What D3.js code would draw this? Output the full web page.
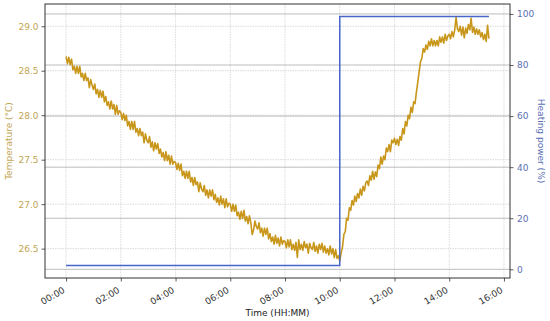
<!DOCTYPE html>
<html><head><meta charset="utf-8">
<script src="https://cdn.jsdelivr.net/npm/d3@7"></script>
<style>
body{margin:0;background:#fff}
svg{display:block}
text{font-family:"DejaVu Sans",sans-serif}
</style>
</head><body>
<svg id="chart" width="550" height="321"></svg>
<script>
// ---- data ----
const tempSampleStepHours = 0.05;
const temperature = [
  // 00:00
  28.66,28.58,28.65,28.57,28.63,28.51,28.55,28.47,28.55,28.47,28.55,28.43,28.47,28.39,28.47,28.39,28.42,28.31,28.40,28.34,
  // 01:00
  28.29,28.35,28.24,28.29,28.20,28.28,28.20,28.27,28.15,28.21,28.11,28.15,28.07,28.16,28.07,28.12,28.01,28.11,28.01,28.05,
  // 02:00
  28.03,27.95,28.02,27.94,28.00,27.88,27.93,27.84,27.93,27.84,27.93,27.81,27.85,27.77,27.85,27.77,27.81,27.69,27.79,27.72,
  // 03:00
  27.69,27.76,27.64,27.70,27.60,27.69,27.62,27.68,27.57,27.62,27.53,27.58,27.49,27.59,27.49,27.55,27.45,27.54,27.45,27.48,
  // 04:00
  27.47,27.39,27.46,27.38,27.45,27.32,27.37,27.29,27.37,27.29,27.37,27.25,27.30,27.21,27.30,27.22,27.25,27.14,27.24,27.17,
  // 05:00
  27.14,27.21,27.10,27.16,27.07,27.16,27.09,27.16,27.05,27.11,27.02,27.07,26.99,27.09,27.00,27.06,26.96,27.06,26.97,27.01,
  // 06:00
  27.00,26.92,27.00,26.92,26.99,26.87,26.91,26.83,26.92,26.84,26.93,26.81,26.86,26.78,26.87,26.79,26.66,26.71,26.81,26.75,
  // 07:00
  26.72,26.79,26.68,26.73,26.64,26.73,26.66,26.73,26.61,26.67,26.58,26.63,26.55,26.65,26.56,26.62,26.53,26.63,26.55,26.59,
  // 08:00
  26.58,26.51,26.60,26.52,26.60,26.49,26.55,26.48,26.57,26.40,26.60,26.49,26.55,26.48,26.58,26.51,26.55,26.45,26.56,26.51,
  // 09:00
  26.49,26.57,26.47,26.53,26.45,26.55,26.49,26.56,26.46,26.53,26.45,26.50,26.43,26.53,26.44,26.50,26.40,26.49,26.39,26.42,
  // 10:00
  26.36,26.45,26.52,26.66,26.69,26.84,26.82,26.96,26.93,27.04,26.99,27.09,27.03,27.12,27.07,27.17,27.10,27.20,27.15,27.24,
  // 11:00
  27.26,27.21,27.32,27.27,27.37,27.28,27.36,27.31,27.44,27.40,27.53,27.45,27.54,27.50,27.63,27.59,27.67,27.59,27.72,27.69,
  // 12:00
  27.74,27.67,27.73,27.66,27.76,27.72,27.85,27.79,27.93,27.88,28.00,27.96,28.09,28.03,28.15,28.13,28.26,28.37,28.49,28.60,
  // 13:00
  28.64,28.75,28.71,28.79,28.74,28.83,28.78,28.86,28.78,28.84,28.78,28.84,28.78,28.88,28.82,28.88,28.81,28.91,28.84,28.89,
  // 14:00
  28.91,28.86,28.94,28.88,28.96,29.10,28.97,28.94,29.00,28.90,28.99,28.87,28.98,28.92,29.02,28.96,29.09,28.93,28.99,28.91,
  // 15:00
  28.97,28.91,28.96,28.88,28.93,28.85,28.91,28.83,29.01,28.86
];
const heatingTimes = [0, 10, 15.45];
const heatingPower = [1.5, 99, 99];
const xTickHours = [0, 2, 4, 6, 8, 10, 12, 14, 16];
const xTickLabels = ["00:00","02:00","04:00","06:00","08:00","10:00","12:00","14:00","16:00"];
const tempTicks = [26.5, 27.0, 27.5, 28.0, 28.5, 29.0];
const powerTicks = [0, 20, 40, 60, 80, 100];

// ---- layout ----
const L = 45, R = 510, T = 4, B = 278;
const tempColor = "#c8961a", tempText = "#bfa552";
const powerColor = "#4866c6", powerText = "#5a6fb4";

const svg = d3.select("#chart");
const x = d3.scaleLinear().domain([-0.77, 16.22]).range([L, R]);
const yT = d3.scaleLinear().domain([26.17, 29.25]).range([B, T]);
const yP = d3.scaleLinear().domain([-3.4, 103.9]).range([B, T]);

// grids
const g = svg.append("g");
g.selectAll(".vx").data(xTickHours).join("line")
  .attr("x1", d => x(d)).attr("x2", d => x(d)).attr("y1", T).attr("y2", B)
  .attr("stroke", "#d4d4d4").attr("stroke-width", 0.8).attr("stroke-dasharray", "1.5,1");
g.selectAll(".ht").data(tempTicks).join("line")
  .attr("x1", L).attr("x2", R).attr("y1", d => yT(d)).attr("y2", d => yT(d))
  .attr("stroke", "#d0d0d0").attr("stroke-width", 0.8).attr("stroke-dasharray", "1.5,1");
g.selectAll(".hp").data(powerTicks).join("line")
  .attr("x1", L).attr("x2", R).attr("y1", d => yP(d)).attr("y2", d => yP(d))
  .attr("stroke", "#b4b4b4").attr("stroke-width", 0.9);

// temperature line
const tempPts = temperature.map((v, i) => [i * tempSampleStepHours, v]);
svg.append("path").datum(tempPts)
  .attr("fill", "none").attr("stroke", tempColor).attr("stroke-width", 1.6)
  .attr("stroke-linejoin", "round")
  .attr("d", d3.line().x(d => x(d[0])).y(d => yT(d[1])));

// heating power step
const powPts = heatingTimes.map((t, i) => [t, heatingPower[i]]);
svg.append("path").datum(powPts)
  .attr("fill", "none").attr("stroke", powerColor).attr("stroke-width", 1.5)
  .attr("d", d3.line().curve(d3.curveStepAfter).x(d => x(d[0])).y(d => yP(d[1])));

// axes
const xAxis = svg.append("g").attr("transform", `translate(0,${B})`)
  .call(d3.axisBottom(x).tickValues(xTickHours).tickFormat((d, i) => xTickLabels[i]).tickSize(3.5).tickPadding(3));
xAxis.selectAll("text").attr("font-size", 9).attr("fill", "#333")
  .attr("text-anchor", "end").attr("dy", null).attr("y", 0)
  .attr("transform", "translate(-1,14) rotate(-30)");

const yAxisL = svg.append("g").attr("transform", `translate(${L},0)`)
  .call(d3.axisLeft(yT).tickValues(tempTicks).tickFormat(d3.format(".1f")).tickSize(3.5).tickPadding(3));
yAxisL.selectAll("text").attr("font-size", 9).attr("fill", tempText);

const yAxisR = svg.append("g").attr("transform", `translate(${R},0)`)
  .call(d3.axisRight(yP).tickValues(powerTicks).tickSize(3.5).tickPadding(3.5));
yAxisR.selectAll("text").attr("font-size", 9).attr("fill", powerText);

[xAxis, yAxisL, yAxisR].forEach(a => {
  a.select(".domain").remove();
  a.selectAll(".tick line").attr("stroke", "#333").attr("stroke-width", 0.8);
});

// frame
svg.append("rect").attr("x", L).attr("y", T).attr("width", R - L).attr("height", B - T)
  .attr("fill", "none").attr("stroke", "#333").attr("stroke-width", 1);

// labels
svg.append("text").attr("x", (L + R) / 2).attr("y", 316).attr("text-anchor", "middle")
  .attr("font-size", 9).attr("fill", "#222").text("Time (HH:MM)");
svg.append("text").attr("transform", `translate(12,${(T + B) / 2}) rotate(-90)`)
  .attr("text-anchor", "middle").attr("font-size", 9).attr("fill", tempText).text("Temperature (°C)");
svg.append("text").attr("transform", `translate(538,${(T + B) / 2}) rotate(90)`)
  .attr("text-anchor", "middle").attr("font-size", 9).attr("fill", powerText).text("Heating power (%)");
</script>
</body></html>
